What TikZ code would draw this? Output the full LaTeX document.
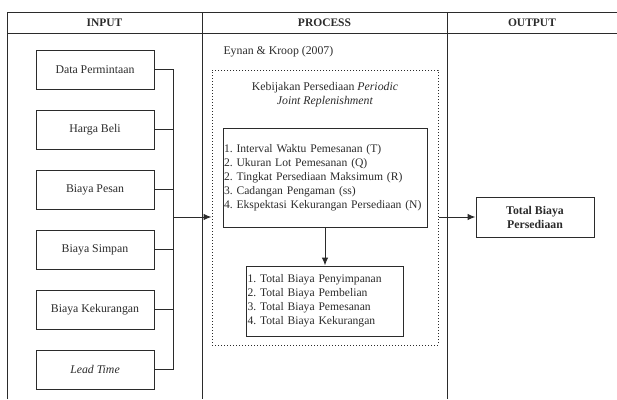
\documentclass[tikz,border=0pt]{standalone}
\usepackage{fontspec}
\setmainfont{Liberation Serif}
\usetikzlibrary{arrows.meta, positioning}
\usepackage{xcolor}
\definecolor{ink}{HTML}{2B2B2B}
\frenchspacing

\begin{document}
\begin{tikzpicture}[
x=1pt, y=-1pt,
font=\fontsize{11.8}{14}\selectfont,
node distance=20pt,
wire/.style={draw=ink, line width=1pt},
box/.style={wire,
rectangle,
minimum width=118pt,
minimum height=39pt,
align=center, text=ink},
listbox/.style={wire, rectangle, inner sep=1pt, align=left, text=ink,
font=\fontsize{11.6}{14}\selectfont},
head/.style={font=\fontsize{11.5}{14}\selectfont\bfseries, text=ink},
arrow/.style={-{Latex[length=8pt,width=6.5pt]}, wire},
dotbox/.style={draw=ink, line width=1pt, dash pattern=on 1pt off 2pt}
]
\useasboundingbox (0,0) rectangle (617,399);

% table frame
\draw[wire] (7,399) -- (7,12) -- (617,12);
\draw[wire] (7,33) -- (617,33);
\draw[wire] (202,12) -- (202,399);
\draw[wire] (447,12) -- (447,399);

\node[head] (hin) at (104.5,22.5) {INPUT};
\node[head] (hpro) at (324.5,22.5) {PROCESS};
\node[head] (hout) at (532,22.5) {OUTPUT};

% input
\node[box] (dp) at (95,69.5) {Data Permintaan};
\node[box, below=of dp] (hb) {Harga Beli};
\node[box, below=of hb] (bp) {Biaya Pesan};
\node[box, below=of bp] (bs) {Biaya Simpan};
\node[box, below=of bs] (bk) {Biaya Kekurangan};
\node[box, below=of bk] (lt) {\textit{Lead Time}};

% process
\node[anchor=west, text=ink] (src) at (220,52) {Eynan \& Kroop (2007)};
\node[dotbox, minimum width=226pt, minimum height=275pt] (policy) at (325,207.5) {};
\node[listbox, text width=202pt, minimum height=99pt] (var) at (325,177.5) {1. Interval Waktu Pemesanan (T)\\
2. Ukuran Lot Pemesanan (Q)\\
2. Tingkat Persediaan Maksimum (R)\\
3. Cadangan Pengaman (ss)\\
4. Ekspektasi Kekurangan Persediaan (N)};
\node[text=ink, align=center, above=17pt of var] (pol) {Kebijakan Persediaan \textit{Periodic}\\ \textit{Joint Replenishment}};
\node[listbox, text width=155pt, minimum height=70pt, below=38pt of var] (tot) {1. Total Biaya Penyimpanan\\
2. Total Biaya Pembelian\\
3. Total Biaya Pemesanan\\
4. Total Biaya Kekurangan};

% output
\node[box, font=\fontsize{11.8}{14}\selectfont\bfseries, minimum height=40pt] (out) at (535,217) {Total Biaya\\ Persediaan};

% connectors
\coordinate[right=19pt of dp.east] (bus);
\foreach \n in {dp,hb,bp,bs,bk,lt}
  \draw[wire] (\n.east) -- (bus |- \n.east);
\draw[wire] (bus) -- (bus |- lt.east);
\draw[arrow] (bus |- out) -- (policy.west |- out);
\draw[arrow] (var) -- (tot);
\draw[arrow] (policy.east |- out) -- (out);

\end{tikzpicture}
\end{document}
